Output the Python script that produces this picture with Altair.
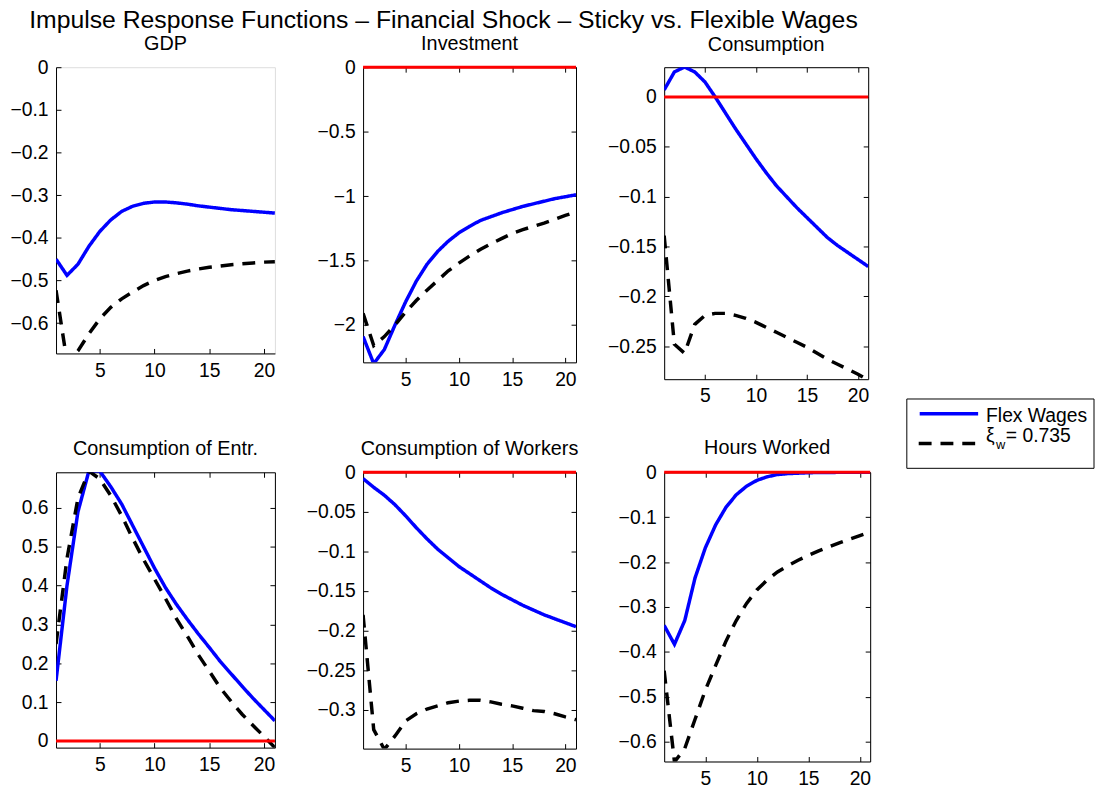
import altair as alt
import pandas as pd

FONT = "Liberation Sans"

periods = list(range(1, 22))
series_names = ["Flex Wages", "Sticky Wages"]
x_ticks = [5, 10, 15, 20]
zero_level = [0.0]

title_text = "Impulse Response Functions \u2013  Financial Shock \u2013 Sticky vs. Flexible Wages"
panel_titles = ["GDP", "Investment", "Consumption",
                "Consumption of Entr.", "Consumption of Workers", "Hours Worked"]
legend_labels = ["Flex Wages", "\u03be", "w", "= 0.735"]

gdp_flex = [-0.450, -0.488, -0.462, -0.420, -0.385, -0.358, -0.338, -0.326, -0.319, -0.316, -0.316,
            -0.318, -0.321, -0.325, -0.328, -0.331, -0.334, -0.336, -0.338, -0.340, -0.342]
gdp_sticky = [-0.523, -0.690, -0.665, -0.625, -0.590, -0.563, -0.543, -0.527, -0.512, -0.500, -0.491,
              -0.484, -0.478, -0.473, -0.469, -0.466, -0.463, -0.461, -0.459, -0.457, -0.456]

inv_flex = [-2.09, -2.30, -2.19, -2.00, -1.82, -1.66, -1.53, -1.43, -1.35, -1.285, -1.235,
            -1.19, -1.16, -1.13, -1.105, -1.08, -1.06, -1.04, -1.02, -1.005, -0.99]
inv_sticky = [-1.91, -2.16, -2.09, -2.00, -1.90, -1.81, -1.73, -1.655, -1.58, -1.52, -1.465,
              -1.415, -1.37, -1.33, -1.29, -1.26, -1.235, -1.21, -1.18, -1.15, -1.125]

cons_flex = [0.007, 0.025, 0.030, 0.025, 0.015, 0.000, -0.016, -0.032, -0.047, -0.062, -0.076,
             -0.089, -0.100, -0.111, -0.121, -0.131, -0.141, -0.149, -0.156, -0.163, -0.170]
cons_sticky = [-0.139, -0.248, -0.257, -0.228, -0.219, -0.217, -0.217, -0.219, -0.222, -0.226, -0.231,
               -0.236, -0.241, -0.246, -0.251, -0.257, -0.263, -0.268, -0.273, -0.278, -0.284]

entr_flex = [0.155, 0.40, 0.59, 0.695, 0.695, 0.655, 0.61, 0.555, 0.50, 0.445, 0.395,
             0.352, 0.313, 0.276, 0.241, 0.205, 0.173, 0.141, 0.110, 0.081, 0.052]
entr_sticky = [0.25, 0.47, 0.625, 0.695, 0.675, 0.632, 0.58, 0.522, 0.467, 0.417, 0.367,
               0.315, 0.27, 0.222, 0.18, 0.137, 0.102, 0.069, 0.04, 0.012, -0.017]

work_flex = [-0.008, -0.019, -0.029, -0.041, -0.055, -0.070, -0.084, -0.097, -0.108, -0.119, -0.128,
             -0.137, -0.146, -0.154, -0.161, -0.168, -0.174, -0.180, -0.185, -0.190, -0.195]
work_sticky = [-0.180, -0.325, -0.350, -0.333, -0.314, -0.305, -0.299, -0.295, -0.291, -0.289, -0.288,
               -0.288, -0.290, -0.293, -0.295, -0.298, -0.301, -0.302, -0.305, -0.309, -0.3125]

hours_flex = [-0.341, -0.383, -0.330, -0.235, -0.168, -0.117, -0.078, -0.050, -0.031, -0.018, -0.010,
              -0.005, -0.003, -0.002, -0.001, -0.0005, -0.0003, -0.0002, -0.0001, -0.0001, -0.0001]
hours_sticky = [-0.442, -0.645, -0.615, -0.550, -0.485, -0.430, -0.376, -0.330, -0.292, -0.262, -0.240,
                -0.222, -0.208, -0.196, -0.185, -0.175, -0.166, -0.157, -0.149, -0.141, -0.133]

y_domains = [[-0.671, 0.0], [-2.29, 0.0], [-0.283, 0.0298],
             [-0.017, 0.692], [-0.349, 0.0], [-0.644, 0.0]]
y_ticks = [[0, -0.1, -0.2, -0.3, -0.4, -0.5, -0.6],
           [0, -0.5, -1, -1.5, -2],
           [0, -0.05, -0.1, -0.15, -0.2, -0.25],
           [0, 0.1, 0.2, 0.3, 0.4, 0.5, 0.6],
           [0, -0.05, -0.1, -0.15, -0.2, -0.25, -0.3],
           [0, -0.1, -0.2, -0.3, -0.4, -0.5, -0.6]]


def axis_common():
    return dict(grid=False, title=None, domainColor="black", domainWidth=1,
                tickColor="black", tickSize=5, tickWidth=1, labelColor="black",
                labelFontSize=19.5, labelFont=FONT, zindex=0, labelOverlap=False)


def legend_layers(x0, y0):
    one = pd.DataFrame({"k": [0]})
    box = alt.Chart(one).mark_rect(fill="white", stroke="black", strokeWidth=1).encode(
        x=alt.value(x0), x2=alt.value(x0 + 189), y=alt.value(y0), y2=alt.value(y0 + 70))
    blue = alt.Chart(one).mark_rule(color="#0000ff", strokeWidth=3.5).encode(
        x=alt.value(x0 + 13), x2=alt.value(x0 + 72), y=alt.value(y0 + 15))
    dash = alt.Chart(one).mark_rule(color="#000000", strokeWidth=3.5, strokeDash=[13, 9]).encode(
        x=alt.value(x0 + 12), x2=alt.value(x0 + 72), y=alt.value(y0 + 45))

    def txt(label, dx, dy, size):
        return alt.Chart(pd.DataFrame({"label": [label]})).mark_text(
            align="left", baseline="alphabetic", fontSize=size, font=FONT, color="black").encode(
            text="label:N", x=alt.value(x0 + dx), y=alt.value(y0 + dy))

    return [box, blue, dash,
            txt(legend_labels[0], 80, 23, 19.5),
            txt(legend_labels[1], 80, 43, 19.5),
            txt(legend_labels[2], 90, 50, 13),
            txt(legend_labels[3], 100, 43, 19.5)]


def panel(title, flex, sticky, domain, ticks, w, h, box, toff, extra=None):
    df = pd.DataFrame({
        "period": periods + periods,
        "value": flex + sticky,
        "series": [series_names[0]] * len(periods) + [series_names[1]] * len(periods),
    })
    xscale = alt.Scale(domain=[periods[0], periods[-1]], nice=False, zero=False)
    yscale = alt.Scale(domain=domain, nice=False, zero=False)
    xax = alt.Axis(orient="top", offset=-h, values=x_ticks, labelPadding=-13,
                   labelBaseline="top", labelFlush=False, format="~g", **axis_common())
    yax = alt.Axis(orient="right", offset=-w, values=ticks, labelPadding=-13,
                   labelAlign="right", format="~g", **axis_common())
    lines = alt.Chart(df).mark_line(clip=True, strokeWidth=3.5).encode(
        x=alt.X("period:Q", scale=xscale, axis=xax),
        y=alt.Y("value:Q", scale=yscale, axis=yax),
        color=alt.Color("series:N", scale=alt.Scale(domain=series_names, range=["#0000ff", "#000000"]),
                        legend=None),
        strokeDash=alt.StrokeDash("series:N", scale=alt.Scale(domain=series_names, range=[[1, 0], [13, 9]]),
                                  legend=None),
    )
    layers = [lines]
    if box:
        zdf = pd.DataFrame({"start": [periods[0]], "end": [periods[-1]], "level": zero_level})
        xax2 = alt.Axis(orient="bottom", offset=-h, values=x_ticks, labels=False, **axis_common())
        yax2 = alt.Axis(orient="left", offset=-w, values=ticks, labels=False, **axis_common())
        zero = alt.Chart(zdf).mark_rule(color="#ff0000", strokeWidth=3).encode(
            x=alt.X("start:Q", scale=xscale, axis=xax2),
            x2="end:Q",
            y=alt.Y("level:Q", scale=yscale, axis=yax2),
        )
        layers.append(zero)
    if extra:
        layers.extend(extra)
    return alt.layer(*layers).properties(
        width=w, height=h,
        title=alt.TitleParams(title, fontSize=20, font=FONT, fontWeight="normal", color="black",
                              anchor="middle", frame="group", offset=toff),
    )


p1 = panel(panel_titles[0], gdp_flex, gdp_sticky, y_domains[0], y_ticks[0], 221, 289, False, 3)
p2 = panel(panel_titles[1], inv_flex, inv_sticky, y_domains[1], y_ticks[1], 215, 298, True, 3)
p3 = panel(panel_titles[2], cons_flex, cons_sticky, y_domains[2], y_ticks[2], 206, 315, True, 12,
           extra=legend_layers(245, 335))
p4 = panel(panel_titles[3], entr_flex, entr_sticky, y_domains[3], y_ticks[3], 221, 278, True, 13)
p5 = panel(panel_titles[4], work_flex, work_sticky, y_domains[4], y_ticks[4], 215, 279, True, 3)
p6 = panel(panel_titles[5], hours_flex, hours_sticky, y_domains[5], y_ticks[5], 208, 292, True, 4)

chart = alt.concat(p1, p2, p3, p4, p5, p6, columns=3, bounds="flush",
                   spacing={"row": 94, "column": 89}).properties(
    title=alt.TitleParams(title_text, fontSize=25, font=FONT, fontWeight="normal", color="black",
                          anchor="start", frame="group", dx=-27.1, offset=1),
    padding={"left": 1.5, "top": -4, "right": 0, "bottom": -3},
    background="white",
).configure_view(stroke=None).configure(font=FONT)

chart.save("out.html", embed_options={"renderer": "svg", "actions": False})
